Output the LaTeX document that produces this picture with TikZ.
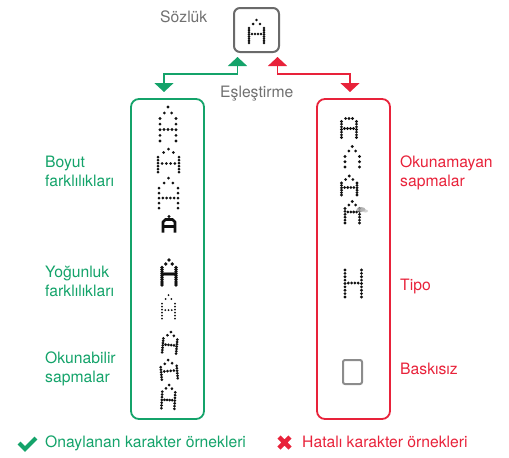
\documentclass[tikz,border=0pt]{standalone}
\usepackage{fontspec}
\setmainfont{TeX Gyre Heros}
\usetikzlibrary{arrows.meta}
\definecolor{gr}{HTML}{14A36A}
\definecolor{rd}{HTML}{E8223A}
\definecolor{gy}{HTML}{707070}
\definecolor{bx}{HTML}{6A6A6A}
\definecolor{dk}{HTML}{111111}
\def\dr{1.1}
% dotted letter A: xl, xr, y apex, y shoulder, y leg top, y bottom, leg dots, y crossbar, inner crossbar dots
\newcommand\dotA[9]{%
  \pgfmathsetmacro\dAxm{(#1+#2)/2}%
  \pgfmathsetmacro\dAsl{#1+0.27*(#2-#1)}%
  \pgfmathsetmacro\dAsr{#2-0.27*(#2-#1)}%
  \fill[dk] (\dAxm,#3) circle[radius=\dr];
  \fill[dk] (\dAsl,#4) circle[radius=\dr];
  \fill[dk] (\dAsr,#4) circle[radius=\dr];
  \pgfmathtruncatemacro\dAn{#7-1}%
  \foreach \i in {0,...,\dAn}{%
    \pgfmathsetmacro\dAy{#5+\i*(#6-#5)/\dAn}%
    \fill[dk] (#1,\dAy) circle[radius=\dr];
    \fill[dk] (#2,\dAy) circle[radius=\dr];
  }%
  \ifnum#9>0
  \foreach \j in {1,...,#9}{%
    \pgfmathsetmacro\dAx{#1+\j*(#2-#1)/(#9+1)}%
    \fill[dk] (\dAx,#8) circle[radius=\dr];
  }%
  \fi
}
\tikzset{
  lbl/.style={inner sep=0pt, anchor=base west, font=\fontsize{15.7}{19}\selectfont},
  tipT/.tip={Triangle[width=19pt,length=9pt]},
  conn/.style={line width=1.6pt, tipT-tipT},
  panel/.style={draw, line width=1.8pt, rounded corners=8pt, minimum width=73pt, minimum height=320pt, inner sep=0pt},
}
\begin{document}
\begin{tikzpicture}[x=1pt,y=-1pt]
\useasboundingbox (0,0) rectangle (509,458);
% dictionary
\node[draw=bx, line width=2pt, rounded corners=6pt, minimum width=45pt, minimum height=44pt, inner sep=0pt] (dict) at (256.5,30) {};
\def\dr{1.45}
\dotA{249}{264}{20}{24}{28}{43}{8}{34}{4}
\node[lbl, text=gy] (sozluk) at (160,22) {Sözlük};
\node[lbl, text=gy] (esl) at (220,97.5) {Eşleştirme};
% panels
\node[panel, draw=gr] (left) at (167.5,259) {};
\node[panel, draw=rd] (right) at (353.5,259) {};
% connectors
\coordinate (gU) at (237.5,57);
\coordinate (gD) at (164,92);
\coordinate (rU) at (277.5,57);
\coordinate (rD) at (350,92);
\draw[conn, gr] (gU) -- ++(0,17) -| (gD);
\draw[conn, rd] (rU) -- ++(0,17) -| (rD);
% left glyphs
\def\dr{1.55}
\dotA{160}{176}{107}{113}{118.5}{141}{5}{129.5}{3}
\def\dr{1.5}
\dotA{158}{179}{149}{152.5}{157}{172}{6}{163.5}{4}
\dotA{159}{178}{178}{183}{188}{208}{5}{198}{4}
\draw[dk, line width=2.8pt, line join=round] (163,232.5) -- (163,222) -- (165.5,219.5) -- (172.5,219.5) -- (175,222) -- (175,232.5) (163,226.5) -- (175,226.5);
\fill[dk] (169,216.5) circle[radius=1.6];
\def\dr{1.85}
\dotA{162}{176}{260}{264}{267.5}{285}{10}{274}{6}
\def\dr{1.0}
\dotA{162}{175}{295}{299}{303.5}{318.5}{6}{310}{3}
\def\dr{1.5}
\begin{scope}[rotate around={-5:(170,343)}]
\dotA{163}{177}{332}{335.5}{339}{353}{7}{345}{4}
\end{scope}
\begin{scope}[rotate around={5:(169,370)}]
\dotA{161}{177}{360}{363.5}{366.5}{379}{6}{371}{4}
\end{scope}
\begin{scope}[rotate around={-3:(168,397)}]
\dotA{162}{175}{385}{388.5}{392}{408.5}{7}{400}{4}
\end{scope}
% right glyphs
\def\dr{1.55}
\dotA{341.5}{356.5}{118.5}{118.5}{121.5}{137.5}{7}{128.5}{4}
\dotA{345}{359.5}{146.5}{151}{156.5}{167}{3}{0}{0}
\dotA{341.5}{357}{176}{179.5}{183}{195}{6}{187.5}{4}
\dotA{345}{359.5}{201.5}{205}{208.5}{223}{6}{212}{4}
\fill[gray!70, opacity=0.85] (361,209.5) ellipse[x radius=4.5, y radius=2.5];
\fill[gray!50, opacity=0.7] (365.5,211) ellipse[x radius=2.5, y radius=1.5];
\foreach \i in {0,...,8}{%
  \pgfmathsetmacro\hy{270+\i*27/8}%
  \fill[dk] (345,\hy) circle[radius=\dr];
  \fill[dk] (361.5,\hy) circle[radius=\dr];
}
\foreach \j in {1,...,4}{%
  \pgfmathsetmacro\hx{345+\j*16.5/5}%
  \fill[dk] (\hx,283) circle[radius=\dr];
}
\node[draw=gray!90, line width=2pt, rounded corners=2pt, minimum width=19pt, minimum height=24pt, inner sep=0pt] (blank) at (352.5,372) {};
% labels
\node[lbl, text=gr] (l1a) at (45,167.5) {Boyut};
\node[lbl, text=gr] (l1b) at (45,186.5) {farklılıkları};
\node[lbl, text=gr] (l2a) at (45,277.5) {Yoğunluk};
\node[lbl, text=gr] (l2b) at (45,296.5) {farklılıkları};
\node[lbl, text=gr] (l3a) at (45,363.5) {Okunabilir};
\node[lbl, text=gr] (l3b) at (45,382.5) {sapmalar};
\node[lbl, text=rd] (r1a) at (400,167.5) {Okunamayan};
\node[lbl, text=rd] (r1b) at (400,186.5) {sapmalar};
\node[lbl, text=rd] (r2) at (400,290.5) {Tipo};
\node[lbl, text=rd] (r3) at (400,374.5) {Baskısız};
% legend
\draw[gr, line width=4.2pt] (19,443) -- (25,449) -- (36,438);
\draw[rd, line width=4.5pt] (279,437) -- (290,448) (279,448) -- (290,437);
\node[lbl, text=gr] (lg1) at (45,447.5) {Onaylanan karakter örnekleri};
\node[lbl, text=rd] (lg2) at (302,447.5) {Hatalı karakter örnekleri};
\end{tikzpicture}
\end{document}
